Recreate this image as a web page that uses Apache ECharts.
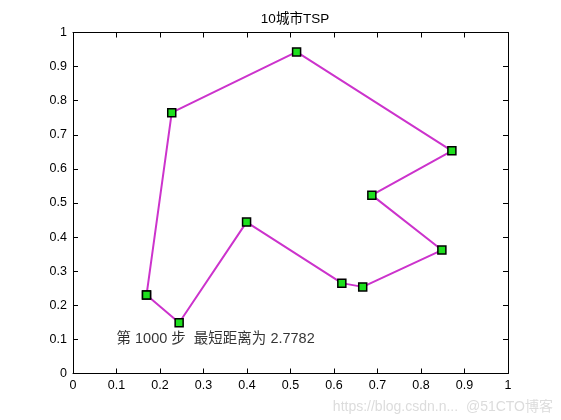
<!DOCTYPE html>
<html><head><meta charset="utf-8">
<script src="https://cdn.jsdelivr.net/npm/echarts@6/dist/echarts.min.js"></script>
<style>html,body{margin:0;padding:0;background:#fff}#c{width:561px;height:420px}</style>
</head><body><div id="c"></div>
<script>
var routeX = [0.169, 0.244, 0.399, 0.618, 0.666, 0.848, 0.687, 0.871, 0.514, 0.227, 0.169];
var routeY = [0.230, 0.149, 0.444, 0.265, 0.254, 0.362, 0.523, 0.653, 0.943, 0.765, 0.230];
var titleText = '10城市TSP';
var noteText = '第 1000 步  最短距离为 2.7782';
var notePos = [0.1, 0.1];
var watermark = 'https://blog.csdn.n...  @51CTO博客';

var font = '"Liberation Sans", "Noto Sans CJK SC", sans-serif';
var pts = routeX.map(function(x, i){ return [x, routeY[i]]; });
var chart = echarts.init(document.getElementById('c'));
function ax(pos, showLabel){
  return {
    type: 'value', min: 0, max: 1, interval: 0.1, position: pos,
    axisLine: {show: true, onZero: false, lineStyle: {color: '#000', width: 1}},
    axisTick: {show: true, inside: true, length: 5, lineStyle: {color: '#000'}},
    axisLabel: {show: showLabel, color: '#000', fontSize: 12.5, fontFamily: font, margin: 6,
      formatter: function(v){ return String(Math.round(v*10)/10); }},
    splitLine: {show: false}
  };
}
chart.setOption({
  animation: false,
  title: {text: titleText, left: 290, top: 8, textAlign: 'center',
    textStyle: {fontSize: 13.5, fontWeight: 'normal', color: '#000', fontFamily: font}},
  grid: {left: 73, top: 32.5, right: 53, bottom: 46.5},
  xAxis: [ax('bottom', true), ax('top', false)],
  yAxis: [ax('left', true), ax('right', false)],
  series: [{
    type: 'line', data: pts, xAxisIndex: 0, yAxisIndex: 0,
    lineStyle: {color: '#cc33cc', width: 2},
    symbol: 'rect', symbolSize: 8,
    itemStyle: {color: '#1ee01e', borderColor: '#000', borderWidth: 1.5}
  }, {
    type: 'scatter', data: [notePos], symbolSize: 0,
    label: {show: true, position: 'right', distance: 0, formatter: noteText,
      color: '#000', fontSize: 14.5, fontFamily: font}
  }],
  graphic: [{type: 'text', right: 8, bottom: 6,
    style: {text: watermark, fill: '#dcdcdc', fontSize: 14, fontFamily: font}}]
});
</script></body></html>
